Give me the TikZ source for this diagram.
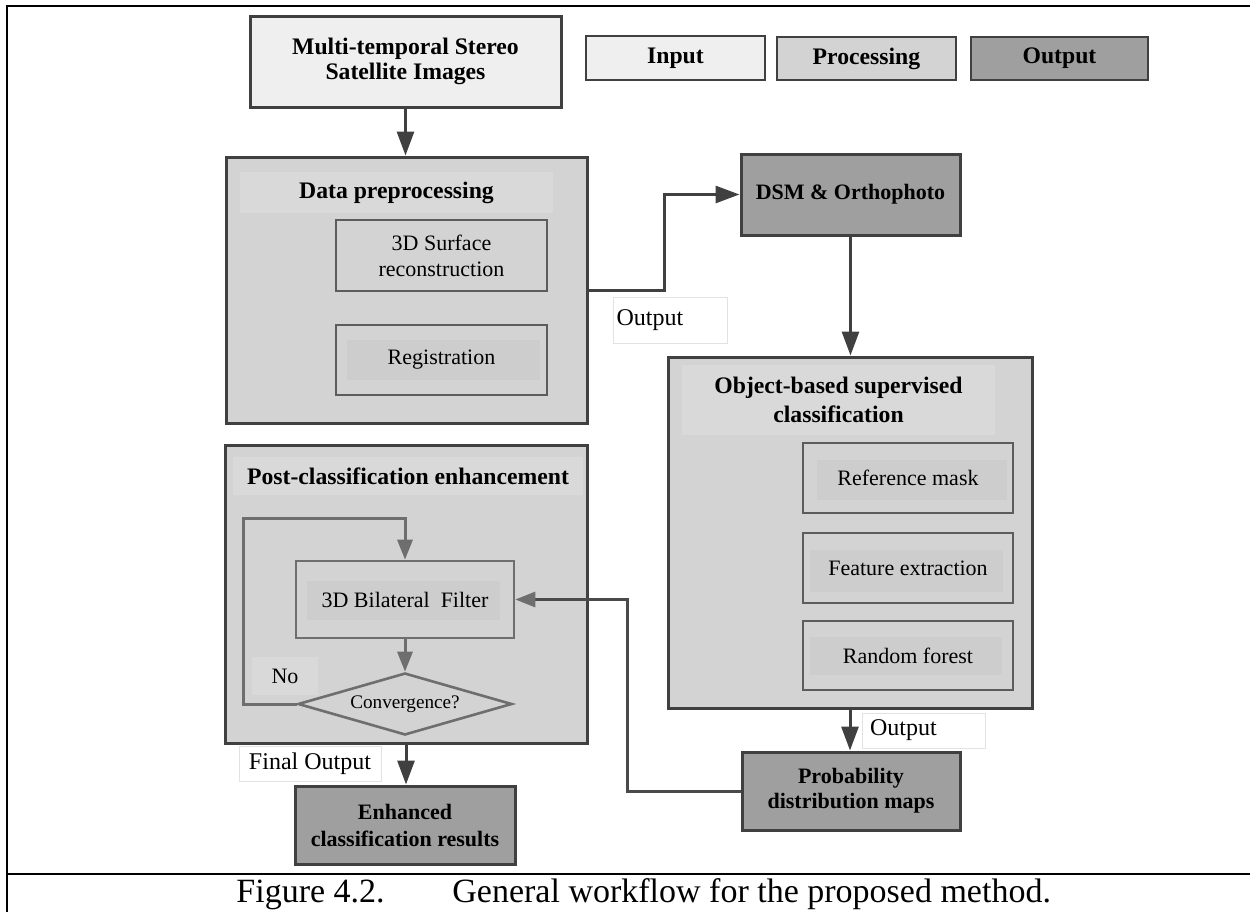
\documentclass[tikz,border=0pt]{standalone}
\usepackage{fontspec}
\setmainfont{Liberation Serif}
\usetikzlibrary{arrows.meta,shapes.geometric}

\definecolor{edge}{HTML}{404040}
\definecolor{inedge}{HTML}{5C5C5C}
\definecolor{soft}{HTML}{6E6E6E}
\definecolor{fbline}{HTML}{4A4A4A}
\definecolor{infill}{HTML}{EFEFEF}
\definecolor{procfill}{HTML}{D3D3D3}
\definecolor{ttlfill}{HTML}{D9D9D9}
\definecolor{subfill}{HTML}{CDCDCD}
\definecolor{outfill}{HTML}{9F9F9F}
\definecolor{lblline}{HTML}{E2E2E2}

\newcommand{\ttlfont}{\fontsize{11.85}{14.5}\selectfont\bfseries}
\newcommand{\subfont}{\fontsize{11}{13}\selectfont}
\newcommand{\outfont}{\fontsize{11}{12.8}\selectfont\bfseries}
\newcommand{\lblfont}{\fontsize{12}{14}\selectfont}
\newcommand{\convfont}{\fontsize{9.6}{11}\selectfont}
\newcommand{\capfont}{\fontsize{17}{20}\selectfont}

\tikzset{
  sz/.style 2 args={minimum width={#1*0.5pt}, minimum height={#2*0.5pt}},
  box/.style={draw=edge, line width=1.5pt, inner sep=0pt, align=center},
  inbox/.style={box, fill=infill},
  procbox/.style={box, fill=procfill},
  outbox/.style={box, fill=outfill, font=\outfont},
  legend/.style={line width=1.2pt, font=\ttlfont},
  subbox/.style={draw=inedge, line width=1.3pt, inner sep=0pt, align=center, font=\subfont},
  subbg/.style={fill=subfill, inner sep=0pt},
  ttl/.style={fill=ttlfill, inner sep=0pt, align=center, font=\ttlfont},
  lbl/.style={draw=lblline, line width=0.5pt, fill=white, inner sep=0pt, font=\lblfont},
  bigarrow/.style={draw=edge, line width=1.5pt, -{Triangle[length=12pt,width=8.5pt]}},
  softarrow/.style={draw=soft, line width=1.5pt, -{Triangle[length=10pt,width=7.5pt]}},
}

\begin{document}
\begin{tikzpicture}[x=0.5pt, y=-0.5pt]
\useasboundingbox (0,0) rectangle (1250,912);

% table frame
\draw[line width=1.4pt] (7,912) -- (7,6) -- (1250,6);
\draw[line width=1.4pt] (7,874) -- (1250,874);

% input and legend
\node[inbox, sz={311}{91}, font=\fontsize{11.85}{13}\selectfont\bfseries] (inp) at (405.5,61.5)
  {\raisebox{-1.5pt}{\shortstack{Multi-temporal Stereo\\[-1pt]Satellite Images}}};
\node[inbox, legend, sz={179}{44}] (legin) at (675.5,58) {Input};
\node[procbox, legend, sz={179}{43}] (legproc) at (866.5,58.5) {Processing};
\node[outbox, legend, sz={177}{43}] (legout) at (1059.5,58.5) {\raisebox{-1.5pt}{Output}};

% data preprocessing
\node[procbox, sz={361}{266}] (prep) at (406.5,290) {};
\node[ttl, sz={313}{41}] (prepttl) at (396.5,192.5) {Data preprocessing};
\node[subbox, sz={211}{71}] (surf) at (441.5,255.5) {3D Surface\\reconstruction};
\node[subbg, sz={193}{40}] (regbg) at (443.5,360) {};
\node[subbox, sz={211}{70}] (reg) at (441.5,360) {Registration};

\node[lbl, sz={114}{46}, inner xsep=1pt, text width={53.5pt}, align=left] (outa) at (670,320) {Output};

% DSM
\node[outbox, sz={219}{81}] (dsm) at (850.5,194.5) {DSM \& Orthophoto};

% object-based classification
\node[procbox, sz={364}{351}] (obj) at (850,532.5) {};
\node[ttl, sz={313}{70}] (objttl) at (838.5,400) {Object-based supervised\\classification};
\node[subbg, sz={190}{40}] (refbg) at (912,480) {};
\node[subbox, sz={210}{70}] (ref) at (908,478) {Reference mask};
\node[subbg, sz={193}{42}] (featbg) at (906.5,571) {};
\node[subbox, sz={210}{70}] (feat) at (908,568) {Feature extraction};
\node[subbg, sz={192}{38}] (rfbg) at (906,656) {};
\node[subbox, sz={210}{69}] (rf) at (908,655.5) {Random forest};

\node[lbl, sz={123}{35}, inner xsep=4pt, text width={53.5pt}, align=left] (outb) at (923.5,730.5) {Output};

\node[outbox, sz={218}{78}, font=\fontsize{11}{12.5}\selectfont\bfseries] (prob) at (851,791)
  {Probability\\distribution maps};

% post-classification enhancement
\node[procbox, sz={362}{298}] (post) at (406,594) {};
\node[ttl, sz={350}{38}] (postttl) at (408,476) {Post-classification enhancement};
\node[subbg, sz={193}{39}] (filtbg) at (403.5,600.5) {};
\node[subbox, draw=soft, sz={218}{77}] (filt) at (405,599.5) {3D Bilateral\ \ Filter};
\node[diamond, draw=soft, line width=1.3pt, inner sep=0pt, sz={214}{62},
  label={[font=\convfont]center:Convergence?}] (conv) at (405,704) {};
\node[fill=ttlfill, inner sep=0pt, sz={66}{38}, font=\subfont] (no) at (285,676) {No};

\node[lbl, sz={142}{35}] (fin) at (310,763.5) {Final Output};
\node[outbox, sz={220}{78}, font=\fontsize{11}{13.5}\selectfont\bfseries] (enh) at (405,825)
  {Enhanced\\classification results};

% connectors
\coordinate (jog) at (664,290);
\coordinate (fbk) at (627,791);
\coordinate (loop) at (243,518);
\draw[bigarrow] (inp.south) -- (inp.south |- prep.north);
\draw[bigarrow] (prep.east) -- (jog) |- (dsm.west);
\draw[bigarrow] (dsm.south) -- (dsm.south |- obj.north);
\draw[bigarrow] (obj.south) -- (obj.south |- prob.north);
\draw[draw=fbline, line width=1.5pt, -{Triangle[length=10pt,width=7.5pt,color=soft]}]
  (prob.west) -- (fbk) |- (filt.east);
\draw[softarrow] (filt.south) -- (conv.north);
\draw[softarrow] (conv.west) -| (loop) -| (filt.north);
\draw[bigarrow] (post.south) -- (post.south |- enh.north);

% caption
\node[font=\capfont, anchor=base west, inner sep=0pt] (figno) at (236,902) {Figure 4.2.};
\node[font=\capfont, anchor=base west, inner sep=0pt] (figcap) at (452,902) {General workflow for the proposed method.};
\end{tikzpicture}
\end{document}
